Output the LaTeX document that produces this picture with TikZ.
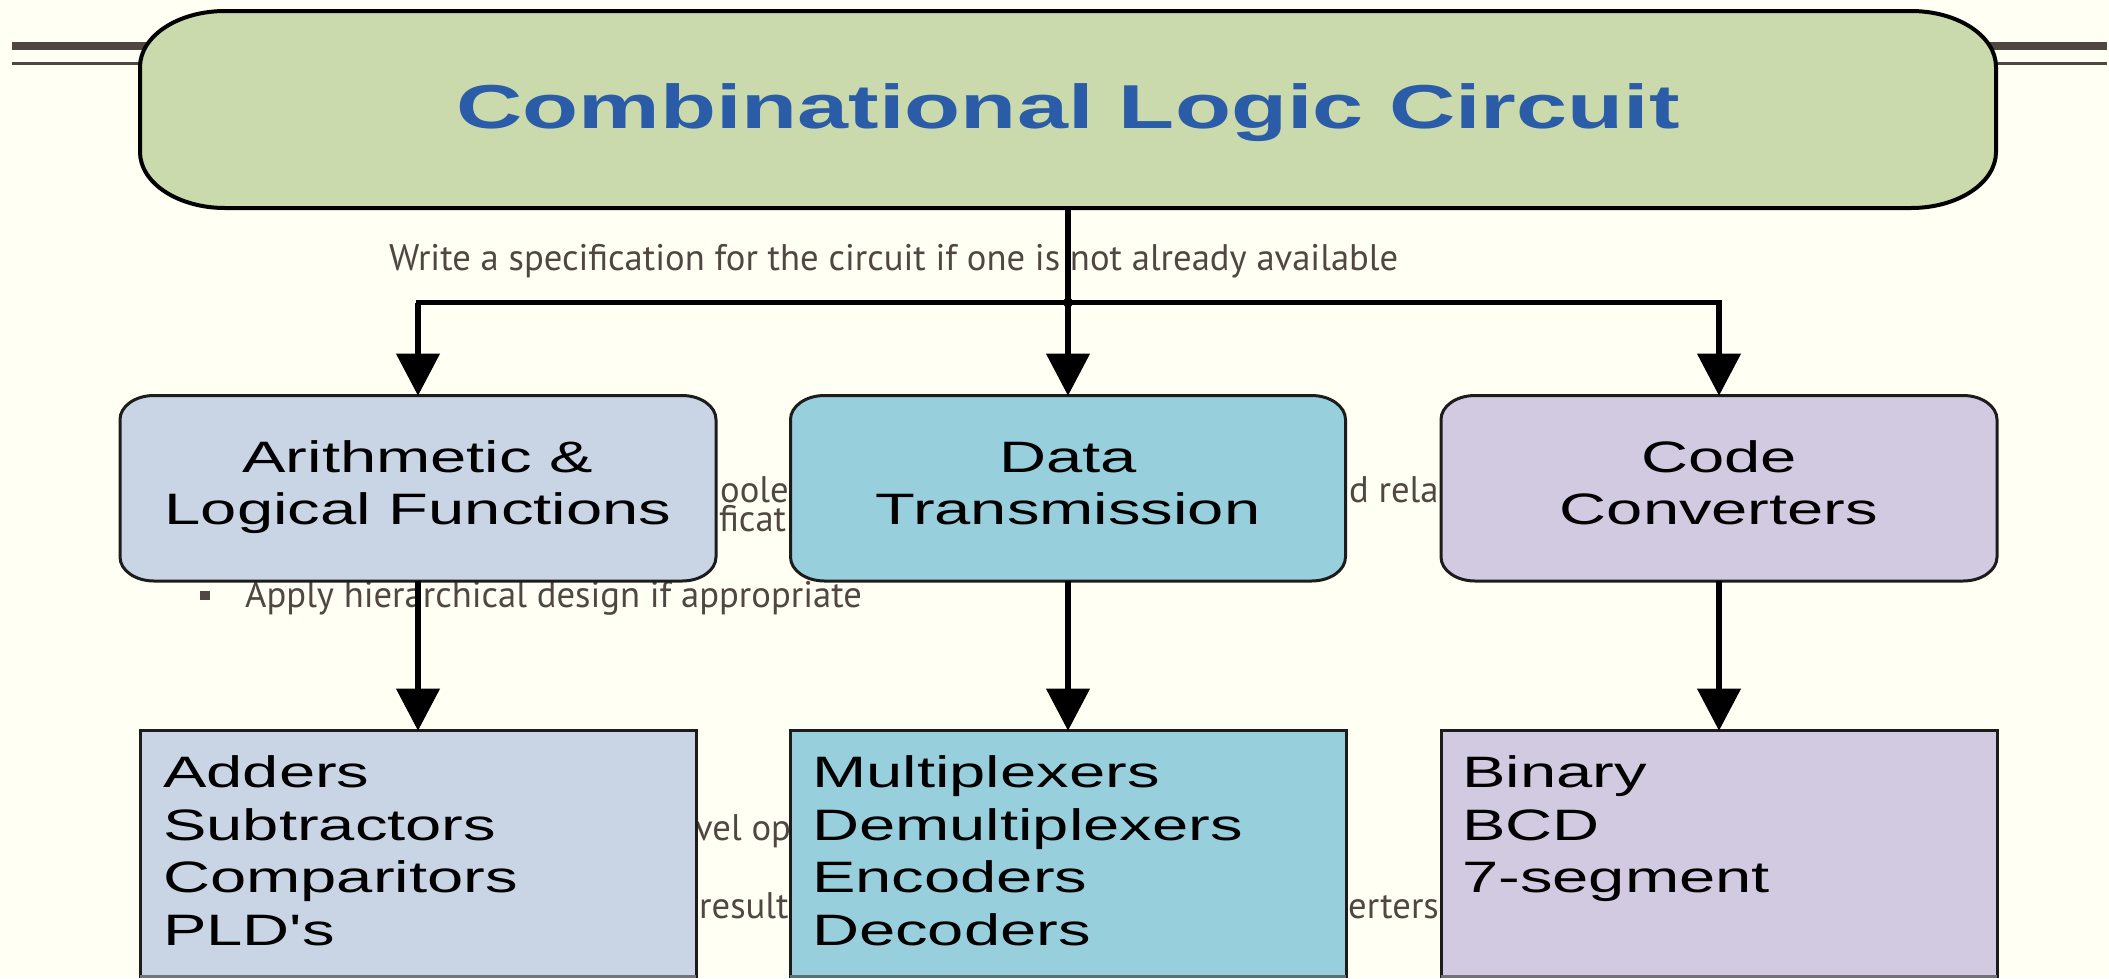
\documentclass[tikz,border=0pt]{standalone}
\usepackage{fontspec}
\usetikzlibrary{arrows.meta,calc}

\newfontfamily\diagfont[FakeStretch=1.48]{Liberation Sans}
\newfontfamily\slidefont[FakeStretch=0.99]{PT Sans}

\definecolor{paper}{RGB}{255,255,244}
\definecolor{inkgray}{RGB}{80,71,66}
\definecolor{titleblue}{RGB}{42,92,168}
\definecolor{greenfill}{RGB}{203,218,172}
\definecolor{arithfill}{RGB}{201,213,229}
\definecolor{datafill}{RGB}{152,207,221}
\definecolor{codefill}{RGB}{210,202,224}
\definecolor{edgeink}{RGB}{28,28,28}

% rounded box with elliptical corners around a named node
% #1 node, #2 x radius, #3 y radius, #4 path options
\newcommand\ellipbox[4]{%
  \path[#4] ($(#1.north east)+(-#2,0)$)
    arc[start angle=90,end angle=0,x radius=#2pt,y radius=#3pt]
    -- ($(#1.south east)+(0,-#3)$)
    arc[start angle=0,end angle=-90,x radius=#2pt,y radius=#3pt]
    -- ($(#1.south west)+(#2,0)$)
    arc[start angle=-90,end angle=-180,x radius=#2pt,y radius=#3pt]
    -- ($(#1.north west)+(0,#3)$)
    arc[start angle=180,end angle=90,x radius=#2pt,y radius=#3pt]
    -- cycle;}

\begin{document}
\begin{tikzpicture}[x=1pt,y=-1pt,
  boxshape/.style={shape=rectangle, inner sep=0pt, outer sep=0pt, draw=none},
  listbox/.style={shape=rectangle, inner sep=0pt, outer sep=0pt,
    draw=edgeink, line width=3pt, fill=#1},
  dtext/.style={font={\diagfont\fontsize{44}{52}\selectfont}, inner sep=0pt, text=black},
  ltext/.style={dtext, anchor=base west},
  ctext/.style={dtext, anchor=base},
  titletext/.style={font={\diagfont\bfseries\fontsize{62}{70}\selectfont},
    inner sep=0pt, text=titleblue, anchor=base},
  stext/.style={font={\slidefont\fontsize{37}{41}\selectfont}, inner sep=0pt,
    text=inkgray, anchor=base west},
  decoline/.style={draw=inkgray},
  conn/.style={draw=black, line width=6pt,
    -{Triangle[width=44pt,length=42pt,line width=1pt]}},
  busline/.style={draw=black, line width=5pt, line cap=rect}]

\useasboundingbox (0,0) rectangle (2109,978);
\fill[paper] (0,0) rectangle (2109,978);

% slide header rules
\draw[decoline, line width=8pt] (12,46) -- (2107,46);
\draw[decoline, line width=2.5pt] (12,63.3) -- (2107,63.3);

% slide body text
\node[stext] (spec) at (389,270) {Write a specification for the circuit if one is not already available};
\node[stext] (frag1) at (720,502) {oole};
\node[stext] (frag2) at (719,531) {ficat};
\node[stext] (frag3) at (1349,502) {d rela};
\node[fill=inkgray, minimum width=10pt, minimum height=9pt, inner sep=0pt] (blt) at (204.5,595.5) {};
\node[stext] (hier) at (245,607) {Apply hierarchical design if appropriate};
\node[stext] (frag4) at (695,840) {vel op};
\node[stext] (frag5) at (699,918) {result};
\node[stext] (frag6) at (1348,918) {erters};

% top level
\node[boxshape, minimum width=1856pt, minimum height=197pt] (top) at (1068,109.5) {};
\ellipbox{top}{85}{56}{fill=greenfill, draw=black, line width=4pt}
\node[titletext] (title) at (1068,128) {Combinational Logic Circuit};

% second level
\node[boxshape, minimum width=596pt, minimum height=185.5pt] (l2) at (418,488.25) {};
\node[boxshape, minimum width=555pt, minimum height=185.5pt] (m2) at (1068,488.25) {};
\node[boxshape, minimum width=556pt, minimum height=185.5pt] (r2) at (1719,488.25) {};
\ellipbox{l2}{34}{24}{fill=arithfill, draw=edgeink, line width=3pt}
\ellipbox{m2}{34}{24}{fill=datafill, draw=edgeink, line width=3pt}
\ellipbox{r2}{34}{24}{fill=codefill, draw=edgeink, line width=3pt}

\node[ctext] (l2a) at (418,472) {Arithmetic \&};
\node[ctext] (l2b) at (418,524) {Logical Functions};
\node[ctext] (m2a) at (1068,472) {Data};
\node[ctext] (m2b) at (1068,524) {Transmission};
\node[ctext] (r2a) at (1719,472) {Code};
\node[ctext] (r2b) at (1719,524) {Converters};

% third level
\node[listbox=arithfill, minimum width=556pt, minimum height=245.5pt] (l3) at (418,853.25) {};
\node[listbox=datafill, minimum width=556pt, minimum height=245.5pt] (m3) at (1068,853.25) {};
\node[listbox=codefill, minimum width=556pt, minimum height=245.5pt] (r3) at (1719,853.25) {};
\draw[line width=3pt, arithfill!55!black] (l3.south west) -- (l3.south east);
\draw[line width=3pt, datafill!55!black] (m3.south west) -- (m3.south east);
\draw[line width=3pt, codefill!55!black] (r3.south west) -- (r3.south east);

\node[ltext] (l3a) at (163,787) {Adders};
\node[ltext] (l3b) at (163,840) {Subtractors};
\node[ltext] (l3c) at (163,892) {Comparitors};
\node[ltext] (l3d) at (163,945) {PLD's};
\node[ltext] (m3a) at (812,787) {Multiplexers};
\node[ltext] (m3b) at (812,840) {Demultiplexers};
\node[ltext] (m3c) at (812,892) {Encoders};
\node[ltext] (m3d) at (812,945) {Decoders};
\node[ltext] (r3a) at (1462,787) {Binary};
\node[ltext] (r3b) at (1462,840) {BCD};
\node[ltext] (r3c) at (1462,892) {7-segment};

% connectors
\coordinate (busy) at (0,302.5);
\coordinate (junc) at (top.south |- busy);
\coordinate (busl) at (l2.north |- busy);
\coordinate (busr) at (r2.north |- busy);
\draw[busline] (busl) -- (busr);
\draw[conn] (top.south) -- (m2.north);
\fill (junc) circle[radius=5pt];
\draw[conn] (busl) -- (l2.north);
\draw[conn] (busr) -- (r2.north);
\draw[conn] (l2.south) -- (l3.north);
\draw[conn] (m2.south) -- (m3.north);
\draw[conn] (r2.south) -- (r3.north);
\end{tikzpicture}
\end{document}
